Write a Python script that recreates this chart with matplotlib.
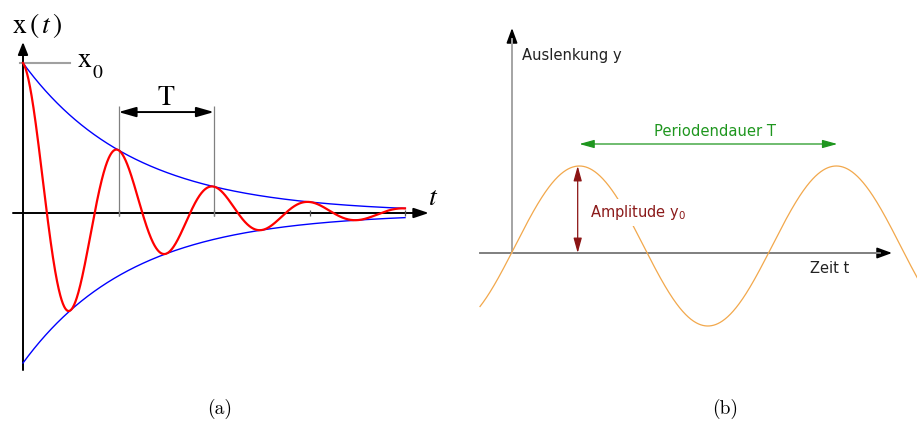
import numpy as np
import matplotlib
matplotlib.use("Agg")
import matplotlib.pyplot as plt

plt.rcParams['mathtext.fontset'] = 'stix'
plt.rcParams['font.family'] = ['DejaVu Sans']

# (a) damped oscillation (period = 1, x0 = 1)
x0 = 1.0
decay_a = 0.87          # log decrement per period
t_end_a = 4.0
ticks_a = [1, 2, 3, 4]
T_marks = [1, 2]

# (b) harmonic oscillation (period = 1, amplitude y0 = 1)
amp_b = 1.0
offset_b = 0.0875       # curve centre sits a bit above the time axis
t_peak_b = 0.262
t_range_b = [-0.1245, 1.58]

fig = plt.figure(figsize=(9.17, 4.23), dpi=100)

# ---------------- panel (a) ----------------
ax = fig.add_axes([0, 43 / 423, 460 / 917, 380 / 423])
ax.set_xlim(-23 / 95.5, 437 / 95.5)
ax.set_ylim(-167 / 150, 213 / 150)
ax.axis('off')

t = np.linspace(0, t_end_a, 1200)
env = x0 * np.exp(-decay_a * t)
x = env * np.cos(2 * np.pi * t)

ax.plot(t, env, color='#0000ff', lw=1.0, zorder=3)
ax.plot(t, -env, color='#0000ff', lw=1.0, zorder=3)
ax.plot(t, x, color='#ff0000', lw=1.6, zorder=4)

# axes with arrows
ax.annotate('', xy=(4.25, 0), xytext=(-0.105, 0),
            arrowprops=dict(arrowstyle='-|>,head_length=0.6,head_width=0.2', color='black',
                            lw=1.4, mutation_scale=15, shrinkA=0, shrinkB=0), zorder=2)
ax.annotate('', xy=(0, 1.14), xytext=(0, -1.047),
            arrowprops=dict(arrowstyle='-|>,head_length=0.5,head_width=0.2', color='black',
                            lw=1.4, mutation_scale=15, shrinkA=0, shrinkB=0), zorder=2)

ax.vlines(ticks_a, -0.02, 0.02, color='#555555', lw=0.9, zorder=2)
ax.vlines(T_marks, -0.02, 0.713, color='#808080', lw=0.9, zorder=2)
ax.annotate('', xy=(T_marks[1], 0.673), xytext=(T_marks[0], 0.673),
            arrowprops=dict(arrowstyle='<|-|>,head_length=0.7,head_width=0.2', color='black',
                            lw=1.4, mutation_scale=15, shrinkA=0, shrinkB=0))
ax.text(np.mean(T_marks), 0.72, r'$\mathrm{T}$', ha='center', va='baseline', fontsize=20)

ax.plot([-0.03, 0.49], [x0, x0], color='#a0a0a0', lw=1.5, zorder=1)
ax.text(0.565, 0.973, r'$\mathrm{x}$', ha='left', va='baseline', fontsize=20)
ax.text(0.722, 0.9, r'$\mathrm{0}$', ha='left', va='baseline', fontsize=14)
ax.text(-0.115, 1.2, r'$\mathrm{x}\,(\,t\,)$', ha='left', va='baseline', fontsize=20)
ax.text(4.24, 0.053, r'$t$', ha='left', va='baseline', fontsize=20)

# ---------------- panel (b) ----------------
bx = fig.add_axes([470 / 917, 43 / 423, 447 / 917, 380 / 423])
bx.set_xlim(-42 / 257, 405 / 257)
bx.set_ylim(-127 / 80, 253 / 80)
bx.axis('off')

tb = np.linspace(t_range_b[0], t_range_b[1], 1000)
yb = offset_b + amp_b * np.cos(2 * np.pi * (tb - t_peak_b))
bx.plot(tb, yb, color='#f2a84c', lw=0.9, zorder=2, clip_on=True)

# time axis: gray shaft, black head
bx.annotate('', xy=(1.4786, 0), xytext=(-0.1245, 0),
            arrowprops=dict(arrowstyle='-|>,head_length=0.6,head_width=0.22', color='black',
                            lw=1.2, mutation_scale=15, shrinkA=0, shrinkB=0), zorder=1)
bx.plot([-0.1245, 1.43], [0, 0], color='#8c8c8c', lw=1.3, zorder=1.5)
bx.annotate('', xy=(0, 2.8125), xytext=(0, 0),
            arrowprops=dict(arrowstyle='-|>,head_length=0.6,head_width=0.22', color='black',
                            lw=1.2, mutation_scale=15, shrinkA=0, shrinkB=0), zorder=1)
bx.plot([0, 0], [0, 2.67], color='#b4b4b4', lw=1.3, zorder=1.5)

# amplitude arrow
y_peak = offset_b + amp_b
bx.annotate('', xy=(0.2556, y_peak), xytext=(0.2556, 0),
            arrowprops=dict(arrowstyle='<|-|>,head_length=0.9,head_width=0.25', color='#8b1414',
                            lw=0.9, mutation_scale=10, shrinkA=0, shrinkB=0), zorder=3)
bx.text(0.3035, 0.45, r'Amplitude $\mathregular{y_0}$', color='#8b1a1a', fontsize=10.5,
        ha='left', va='baseline', zorder=4,
        bbox=dict(facecolor='white', edgecolor='none', pad=3))

# period arrow
bx.annotate('', xy=(t_peak_b + 1.004, 1.3625), xytext=(t_peak_b, 1.3625),
            arrowprops=dict(arrowstyle='<|-|>,head_length=0.9,head_width=0.25', color='#1e961e',
                            lw=0.9, mutation_scale=10, shrinkA=0, shrinkB=0), zorder=3)
bx.text(0.79, 1.4625, 'Periodendauer T', color='#1e961e', fontsize=10.6,
        ha='center', va='baseline')

bx.text(0.0389, 2.4125, 'Auslenkung y', color='#222222', fontsize=10.6, ha='left', va='baseline')
bx.text(1.16, -0.25, 'Zeit t', color='#222222', fontsize=10.5, ha='left', va='baseline')

# captions
fig.text(220 / 917, 1 - 409 / 423, '(a)', family='cmr10', fontsize=14, ha='center', va='center')
fig.text(725 / 917, 1 - 409 / 423, '(b)', family='cmr10', fontsize=14, ha='center', va='center')

fig.savefig('out.png', dpi=100)
